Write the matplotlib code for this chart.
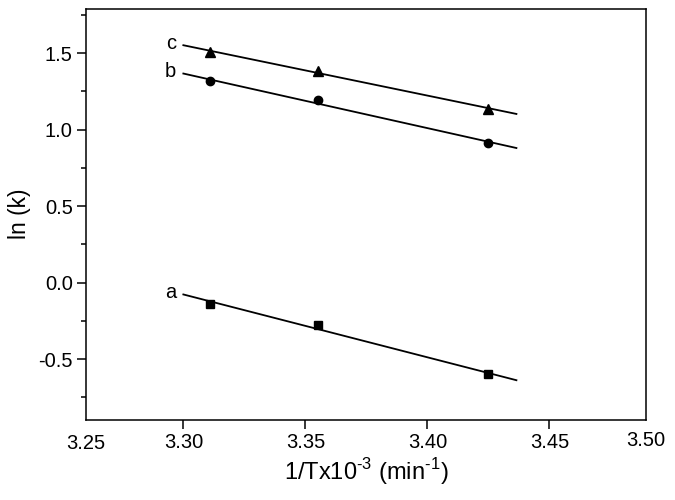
import numpy as np
import matplotlib
matplotlib.use('Agg')
import matplotlib.pyplot as plt

plt.rcParams['font.family'] = ['Liberation Sans', 'DejaVu Sans']
plt.rcParams['mathtext.fontset'] = 'custom'
plt.rcParams['mathtext.rm'] = 'Liberation Sans'
plt.rcParams['axes.unicode_minus'] = False

# 1/T x 10^-3 values and ln(k) for the three series
inv_t = [3.311, 3.355, 3.425]
ln_k_a = [-0.137, -0.280, -0.600]
ln_k_b = [1.315, 1.191, 0.913]
ln_k_c = [1.507, 1.385, 1.135]
series_names = ['a', 'b', 'c']
series_markers = ['s', 'o', '^']
fit_range = [3.300, 3.4365]

xticks = [3.30, 3.35, 3.40, 3.45]
xlim = (3.2601, 3.4896)
ylim = (-0.895, 1.79)

fig = plt.figure(figsize=(6.75, 5), dpi=100)
ax = fig.add_axes([0.1274, 0.161, 0.8296, 0.8214])

for name, mk, ys in zip(series_names, series_markers, [ln_k_a, ln_k_b, ln_k_c]):
    ms = {'s': 5.5, 'o': 6.0, '^': 6.5}[mk]
    ax.plot(inv_t, ys, linestyle='none', marker=mk, color='black', markersize=ms)
    slope, icpt = np.polyfit(inv_t, ys, 1)
    xf = np.array(fit_range)
    yf = slope * xf + icpt
    ax.plot(xf, yf, color='black', linewidth=1.3)
    ax.annotate(name, (xf[0], yf[0]), xytext=(-5, 1.5), textcoords='offset points',
                ha='right', va='center', fontsize=14.5)

ax.set_xlim(*xlim)
ax.set_ylim(*ylim)
ax.set_xticks(xticks)
ax.set_xticklabels(['%.2f' % v for v in xticks])
ax.set_yticks([-0.5, 0.0, 0.5, 1.0, 1.5])
ax.set_yticks([-0.75, -0.25, 0.25, 0.75, 1.25, 1.75], minor=True)
ax.tick_params(which='major', direction='out', length=6.5, width=1.1, labelsize=14.5, pad=3)
ax.tick_params(which='minor', direction='out', length=3.5, width=1.1)
for s in ax.spines.values():
    s.set_linewidth(1.1)

# edge labels without tick marks
ax.text(0, -0.058, '3.25', transform=ax.transAxes, ha='center', va='center', fontsize=14.5)
ax.text(1, -0.051, '3.50', transform=ax.transAxes, ha='center', va='center', fontsize=14.5)

ax.set_xlabel(r'1/Tx10$^{\text{-3}}$ (min$^{\text{-1}}$)', fontsize=17, labelpad=3)
ax.set_ylabel('ln (k)', fontsize=16.5, labelpad=5)

fig.savefig('out.png', dpi=100)
